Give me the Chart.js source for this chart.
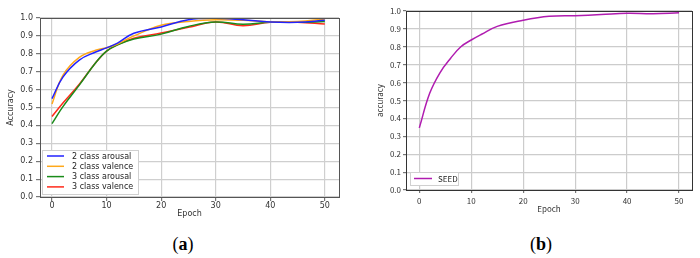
<!DOCTYPE html>
<html>
<head>
<meta charset="utf-8">
<script src="https://cdn.jsdelivr.net/npm/chart.js@4.4.1/dist/chart.umd.min.js"></script>
<style>
  body { margin: 0; background: #fff; width: 700px; height: 258px; position: relative; overflow: hidden; }
  .box { position: absolute; top: 0; width: 350px; height: 225px; }
  .cap { position: absolute; top: 234px; width: 60px; text-align: center; font: 18px "Liberation Serif", serif; color: #000; }
</style>
</head>
<body>
<div class="box" style="left:0"><canvas id="chartA" width="350" height="225"></canvas></div>
<div class="box" style="left:350px"><canvas id="chartB" width="350" height="225"></canvas></div>
<div class="cap" style="left:153px">(<b>a</b>)</div>
<div class="cap" style="left:511px">(<b>b</b>)</div>
<script>
// データ（目盛りとエポック）
const xTicks = [0, 10, 20, 30, 40, 50];
const yTicks = [0, 0.1, 0.2, 0.3, 0.4, 0.5, 0.6, 0.7, 0.8, 0.9, 1.0];
const epochsA = [0, 2, 5, 8, 10, 12, 15, 20, 25, 30, 35, 40, 45, 50];
const arousal2 = [0.55, 0.67, 0.765, 0.81, 0.833, 0.86, 0.915, 0.95, 0.99, 0.998, 0.99, 0.978, 0.976, 0.987];
const valence2 = [0.52, 0.68, 0.78, 0.82, 0.834, 0.855, 0.90, 0.96, 0.98, 0.99, 0.987, 0.978, 0.98, 0.994];
const arousal3 = [0.41, 0.505, 0.625, 0.75, 0.815, 0.85, 0.883, 0.91, 0.953, 0.978, 0.965, 0.976, 0.976, 0.98];
const valence3 = [0.45, 0.525, 0.63, 0.75, 0.815, 0.85, 0.887, 0.916, 0.948, 0.978, 0.957, 0.976, 0.976, 0.966];
const labelsA = ["2 class arousal", "2 class valence", "3 class arousal", "3 class valence"];
const colorsA = ["#2222ff", "#ffa81a", "#1a8c1a", "#ff2a1a"];

const epochsB = [0, 2, 4, 6, 8, 10, 12, 15, 20, 25, 30, 35, 40, 45, 50];
const seed = [0.347, 0.54, 0.656, 0.735, 0.80, 0.838, 0.87, 0.914, 0.948, 0.97, 0.974, 0.98, 0.987, 0.985, 0.99];

function toPoints(xs, ys) {
    return xs.map((x, i) => ({ x: x, y: ys[i] }));
}

// 枠線と凡例を描くプラグイン
const framePlugin = {
    id: 'frame',
    afterDatasetsDraw(chart, args, opts) {
        const a = chart.chartArea;
        const ctx = chart.ctx;
        ctx.save();
        ctx.strokeStyle = opts.color;
        ctx.lineWidth = 1;
        ctx.strokeRect(Math.round(a.left) + 0.5, Math.round(a.top) + 0.5,
            Math.round(a.right - a.left), Math.round(a.bottom - a.top));
        // 凡例
        const lg = opts.legend;
        ctx.fillStyle = '#fff';
        ctx.fillRect(lg.x, lg.y, lg.w, lg.h);
        ctx.strokeStyle = '#d0d0d0';
        ctx.strokeRect(lg.x + 0.5, lg.y + 0.5, lg.w, lg.h);
        ctx.font = lg.font;
        ctx.textBaseline = 'middle';
        chart.data.datasets.forEach((ds, i) => {
            const cy = lg.y + lg.first + i * lg.step;
            ctx.strokeStyle = ds.borderColor;
            ctx.lineWidth = 1.5;
            ctx.beginPath();
            ctx.moveTo(lg.x + lg.l0, cy);
            ctx.lineTo(lg.x + lg.l1, cy);
            ctx.stroke();
            ctx.fillStyle = '#222';
            ctx.fillText(ds.label, lg.x + lg.tx, cy + 0.5);
        });
        ctx.restore();
    }
};

function makeChart(id, datasets, cfg) {
    return new Chart(document.getElementById(id), {
        type: 'line',
        data: { datasets: datasets },
        plugins: [framePlugin],
        options: {
            responsive: false,
            animation: false,
            layout: { padding: cfg.padding },
            plugins: {
                legend: { display: false },
                tooltip: { enabled: false },
                frame: { color: cfg.frameColor, legend: cfg.legend }
            },
            scales: {
                x: {
                    type: 'linear',
                    min: cfg.xMin,
                    max: cfg.xMax,
                    afterBuildTicks: s => { s.ticks = xTicks.map(v => ({ value: v })); },
                    afterFit: s => { s.height = cfg.xHeight; },
                    grid: { color: cfg.gridColor, lineWidth: 1.2, tickLength: cfg.tickLen, tickColor: '#777' },
                    border: { display: false },
                    ticks: { font: cfg.font, color: '#333', padding: cfg.xPad, maxRotation: 0 },
                    title: { display: true, text: 'Epoch', font: cfg.font, color: '#333', padding: cfg.xTitlePad }
                },
                y: {
                    min: 0,
                    max: 1,
                    afterBuildTicks: s => { s.ticks = yTicks.map(v => ({ value: v })); },
                    afterFit: s => { s.width = cfg.yWidth; },
                    grid: { color: cfg.gridColor, lineWidth: 1.2, tickLength: cfg.tickLen, tickColor: '#777' },
                    border: { display: false },
                    ticks: { font: cfg.font, color: '#333', padding: cfg.yPad, callback: v => v.toFixed(1) },
                    title: { display: true, text: cfg.yTitle, font: cfg.font, color: '#333', padding: cfg.yTitlePad }
                }
            }
        }
    });
}

const seriesA = [arousal2, valence2, arousal3, valence3];
makeChart('chartA', seriesA.map((ys, i) => ({
    label: labelsA[i],
    data: toPoints(epochsA, ys),
    borderColor: colorsA[i],
    borderWidth: 1.5,
    pointRadius: 0,
    tension: 0.4
})), {
    padding: { top: 18, right: 11, left: 0, bottom: 0 },
    xMin: -2.2, xMax: 52.6,
    xHeight: 28, yWidth: 40,
    tickLen: 4, xPad: 0, yPad: 3,
    xTitlePad: { top: 0, bottom: 6 }, yTitlePad: { top: 6, bottom: 0 },
    font: { family: 'DejaVu Sans', size: 8 },
    gridColor: '#cfcfcf', frameColor: '#555',
    yTitle: 'Accuracy',
    legend: { x: 42, y: 150, w: 96, h: 44, first: 6, step: 10.3, l0: 5, l1: 22, tx: 30, font: '8px "DejaVu Sans"' }
});

makeChart('chartB', [{
    label: 'SEED',
    data: toPoints(epochsB, seed),
    borderColor: '#b01cb0',
    borderWidth: 1.5,
    pointRadius: 0,
    tension: 0.4
}], {
    padding: { top: 11, right: 8, left: 20, bottom: 0 },
    xMin: -2.56, xMax: 52.5,
    xHeight: 35, yWidth: 36,
    tickLen: 3, xPad: 3, yPad: 2,
    xTitlePad: { top: 0, bottom: 11 }, yTitlePad: { top: 5, bottom: 0 },
    font: { family: 'Noto Sans CJK JP', size: 8 },
    gridColor: '#cccccc', frameColor: '#333',
    yTitle: 'accuracy',
    legend: { x: 60, y: 172, w: 48, h: 13, first: 6.5, step: 10, l0: 4, l1: 22, tx: 28, font: '8px "Noto Sans CJK JP"' }
});
</script>
</body>
</html>
